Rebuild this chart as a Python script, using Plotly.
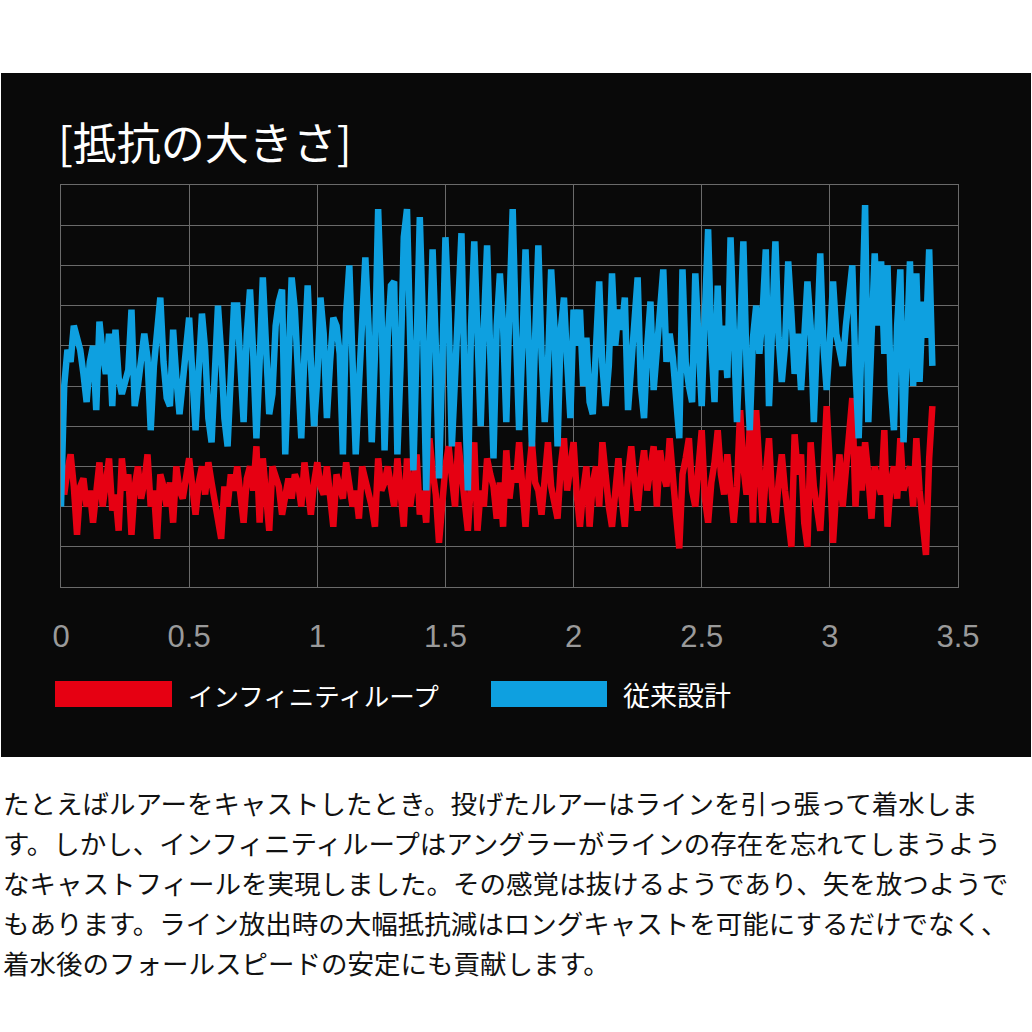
import plotly.graph_objects as go

# ---- data ----
series_names = ["インフィニティループ", "従来設計"]
x_ticks = [0, 0.5, 1, 1.5, 2, 2.5, 3, 3.5]
x_tick_labels = ["0", "0.5", "1", "1.5", "2", "2.5", "3", "3.5"]
sample_step = 0.0125

conventional = [
    2.0, 5.0, 5.9, 5.6, 6.5, 6.2, 5.9, 5.3, 4.6, 5.6,
    6.0, 4.4, 6.6, 5.8, 5.3, 6.3, 4.5, 6.4, 5.2, 4.8,
    5.1, 5.4, 6.9, 4.5, 5.0, 5.6, 6.3, 5.7, 3.9, 5.5,
    6.6, 7.2, 5.6, 4.7, 4.5, 6.4, 5.2, 4.3, 5.1, 5.9,
    6.7, 5.3, 3.9, 5.4, 6.8, 5.9, 4.2, 3.6, 5.5, 7.0,
    5.8, 4.2, 3.5, 5.6, 7.0, 7.0, 5.2, 4.1, 6.3, 7.4,
    5.8, 3.7, 5.6, 7.7, 6.0, 4.3, 4.8, 6.5, 7.1, 7.4,
    3.3, 5.5, 7.7, 6.9, 5.0, 3.7, 5.8, 7.5, 5.6, 4.0,
    5.2, 7.2, 6.3, 4.2, 5.6, 6.7, 6.5, 5.8, 3.3, 6.8,
    8.0, 6.0, 3.3, 5.0, 6.8, 8.2, 6.5, 3.6, 5.8, 9.4,
    7.0, 3.4, 6.2, 7.5, 7.6, 3.3, 5.5, 8.7, 9.4, 5.5,
    2.9, 6.0, 9.2, 6.5, 2.4, 5.8, 8.4, 6.0, 2.7, 5.5,
    8.7, 6.8, 3.5, 5.2, 7.6, 8.8, 5.0, 2.4, 6.5, 8.6,
    6.3, 4.0, 6.5, 8.5, 5.8, 3.2, 6.5, 7.8, 6.5, 4.1,
    7.0, 9.4, 6.3, 3.9, 6.0, 8.4, 6.0, 3.5, 6.2, 8.5,
    5.8, 4.1, 5.5, 7.9, 6.5, 3.5, 6.4, 7.2, 5.6, 4.2,
    6.9, 6.0, 6.9, 5.0, 6.2, 4.6, 4.3, 6.2, 7.6, 5.5,
    4.5, 5.5, 7.8, 6.0, 6.9, 6.4, 7.2, 4.4, 5.6, 6.6,
    7.7, 5.0, 4.2, 6.0, 7.1, 4.9, 5.9, 6.5, 7.9, 5.6,
    6.3, 5.7, 4.5, 3.7, 7.9, 5.6, 5.0, 4.6, 7.8, 5.8,
    4.5, 6.8, 8.9, 6.0, 4.6, 7.5, 5.4, 6.5, 5.2, 8.7,
    5.8, 4.1, 6.3, 8.6, 5.5, 3.9, 6.2, 7.0, 5.8, 6.8,
    8.4, 4.5, 6.5, 8.6, 6.2, 5.1, 6.0, 8.1, 6.8, 5.3,
    6.3, 4.9, 6.2, 7.6, 6.5, 4.1, 6.2, 8.3, 6.0, 4.9,
    6.1, 7.6, 6.3, 5.8, 5.5, 6.5, 7.2, 8.0, 5.4, 3.7,
    6.5, 9.5, 4.1, 5.8, 8.3, 6.5, 8.1, 5.8, 8.0, 5.0,
    3.9, 6.5, 7.9, 3.6, 6.5, 8.1, 5.0, 7.8, 5.1, 7.1,
    6.2, 8.4, 5.5,
]

infinity_loop = [
    3.1, 2.3, 2.9, 3.3, 2.5, 1.3, 2.5, 2.7, 2.0, 2.4,
    1.6, 2.5, 3.1, 2.0, 2.6, 3.2, 1.9, 2.3, 1.4, 3.2,
    2.4, 2.8, 1.3, 2.5, 3.0, 2.2, 2.6, 3.3, 2.0, 2.4,
    1.2, 2.8, 2.5, 2.0, 2.6, 1.6, 3.0, 2.4, 2.2, 2.7,
    3.2, 2.5, 1.8, 2.6, 3.0, 2.3, 3.1, 2.6, 2.2, 1.7,
    1.2, 2.5, 2.0, 2.8, 2.4, 3.0, 2.2, 1.6, 2.7, 3.0,
    2.4, 3.5, 1.6, 3.2, 2.3, 1.4, 3.0, 2.7, 2.5, 1.8,
    2.4, 2.7, 2.2, 2.8, 2.6, 2.0, 3.1, 2.4, 1.8, 2.6,
    3.1, 2.5, 2.3, 3.0, 2.1, 1.5, 2.8, 2.5, 2.2, 3.1,
    2.6, 2.0, 2.4, 1.7, 3.0, 2.7, 2.3, 2.0, 1.5, 3.2,
    2.4, 2.6, 3.0, 2.4, 2.0, 3.2, 2.2, 1.5, 3.2, 2.0,
    2.6, 3.3, 1.8, 2.4, 1.6, 3.7, 2.9, 2.3, 1.1, 2.2,
    3.0, 3.5, 2.5, 2.0, 3.6, 2.8, 2.4, 1.4, 2.6, 3.6,
    1.4, 2.4, 2.0, 3.2, 2.8, 2.5, 1.7, 2.6, 1.5, 3.4,
    2.2, 2.9, 2.6, 3.6, 2.5, 1.5, 2.8, 3.6, 2.6, 2.4,
    1.8, 2.8, 3.6, 2.5, 2.0, 1.7, 3.0, 3.7, 2.4, 2.9,
    3.6, 2.3, 1.5, 2.4, 3.0, 1.5, 2.6, 3.0, 2.0, 3.6,
    2.6, 2.0, 1.5, 2.6, 3.2, 2.2, 1.5, 2.8, 3.5, 2.6,
    1.9, 2.8, 3.4, 2.4, 2.9, 3.5, 2.0, 3.4, 2.8, 2.5,
    3.7, 2.5, 1.8, 0.96, 2.8, 3.2, 3.7, 2.4, 2.0, 3.0,
    3.9, 2.2, 1.6, 2.6, 3.1, 3.9, 2.8, 2.3, 3.3, 2.4,
    1.6, 2.5, 4.4, 3.0, 2.3, 4.0, 1.6, 4.4, 3.0, 1.6,
    2.8, 3.7, 2.2, 1.6, 2.6, 3.3, 2.4, 1.5, 1.0, 3.8,
    2.8, 3.3, 1.6, 1.0, 3.6, 2.5, 2.0, 1.4, 2.8, 4.5,
    3.0, 1.1, 2.4, 3.3, 2.0, 3.0, 4.2, 4.7, 2.0, 3.5,
    2.4, 3.6, 2.8, 1.7, 3.0, 2.6, 2.3, 3.9, 1.5, 2.6,
    3.0, 2.2, 3.7, 2.4, 2.8, 3.0, 2.0, 3.7, 2.4, 1.5,
    0.8, 3.2, 4.5,
]

title_text = "[抵抗の大きさ]"
body_lines = [
    "たとえばルアーをキャストしたとき。投げたルアーはラインを引っ張って着水しま",
    "す。しかし、インフィニティループはアングラーがラインの存在を忘れてしまうよう",
    "なキャストフィールを実現しました。その感覚は抜けるようであり、矢を放つようで",
    "もあります。ライン放出時の大幅抵抗減はロングキャストを可能にするだけでなく、",
    "着水後のフォールスピードの安定にも貢献します。",
]

RED = "#e60012"
BLUE = "#0ea0e0"
W = 1032
H = 1032
JP = "Noto Sans CJK JP"


def px(xp):
    return xp / W


def py(yp):
    return 1 - yp / H


t_red = [i * sample_step for i in range(len(infinity_loop))]
t_blue = [i * sample_step for i in range(len(conventional))]

fig = go.Figure()
fig.add_trace(go.Scatter(x=t_red, y=infinity_loop, mode="lines", name=series_names[0],
                         line=dict(color=RED, width=6.5), showlegend=False))
fig.add_trace(go.Scatter(x=t_blue, y=conventional, mode="lines", name=series_names[1],
                         line=dict(color=BLUE, width=6.5), showlegend=False))

grid = "#6a6a6a"
fig.update_xaxes(domain=[px(61), px(958)], range=[0, 3.5], tickvals=x_ticks, ticktext=x_tick_labels,
                 automargin=False, showgrid=True, gridcolor=grid, gridwidth=1, zeroline=False,
                 showline=True, mirror=True, linecolor=grid, linewidth=1,
                 ticks="outside", ticklen=22, tickcolor="rgba(0,0,0,0)",
                 tickfont=dict(family="Liberation Sans Narrow, Liberation Sans, sans-serif", size=31, color="#9a9a9a"))
fig.update_yaxes(domain=[py(587), py(185)], range=[0, 10], dtick=1, showticklabels=False,
                 automargin=False, showgrid=True, gridcolor=grid, gridwidth=1, zeroline=False,
                 showline=True, mirror=True, linecolor=grid, linewidth=1)

shapes = [
    dict(type="rect", xref="paper", yref="paper", x0=px(1), x1=px(1031), y0=py(757), y1=py(73),
         fillcolor="#090909", line=dict(width=0), layer="below"),
    dict(type="rect", xref="paper", yref="paper", x0=px(55), x1=px(172), y0=py(707), y1=py(681),
         fillcolor=RED, line=dict(width=0)),
    dict(type="rect", xref="paper", yref="paper", x0=px(491), x1=px(607), y0=py(707), y1=py(681),
         fillcolor=BLUE, line=dict(width=0)),
]

annotations = [
    dict(text=title_text, x=px(56), y=py(141), xref="paper", yref="paper", xanchor="left", yanchor="middle",
         showarrow=False, font=dict(family=JP, size=44, color="white")),
    dict(text=series_names[0], x=px(186), y=py(694), xref="paper", yref="paper", xanchor="left",
         yanchor="middle", showarrow=False, font=dict(family=JP, size=25.5, color="white")),
    dict(text=series_names[1], x=px(621), y=py(694), xref="paper", yref="paper", xanchor="left",
         yanchor="middle", showarrow=False, font=dict(family=JP, size=27, color="white")),
]
for k, line in enumerate(body_lines):
    annotations.append(dict(text=line, x=px(1), y=py(802 + 40 * k), xref="paper", yref="paper",
                            xanchor="left", yanchor="middle", showarrow=False,
                            font=dict(family=JP, size=26.5, color="#111111")))

fig.update_layout(width=W, height=H, margin=dict(l=0, r=0, t=0, b=0, autoexpand=False), autosize=False,
                  paper_bgcolor="white", plot_bgcolor="#090909",
                  shapes=shapes, annotations=annotations, showlegend=False)

post = ("document.documentElement.style.margin='0';document.body.style.margin='0';"
        "document.body.style.padding='0';document.documentElement.style.overflow='hidden';"
        "document.body.style.overflow='hidden';")
fig.write_html("out.html", config={"displayModeBar": False}, post_script=post)
